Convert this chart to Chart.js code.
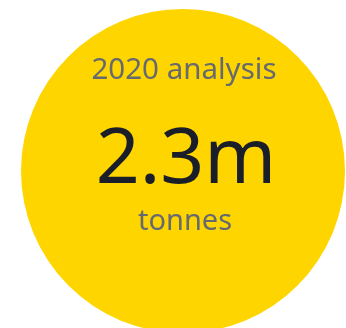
<!DOCTYPE html>
<html lang="en">
<head>
    <meta charset="UTF-8">
    <title>2020 analysis</title>
    <script src="https://cdn.jsdelivr.net/npm/chart.js"></script>
    <style>
        * { margin: 0; padding: 0; box-sizing: border-box; }
        body { background: #fff; width: 346px; height: 328px; overflow: hidden; }
        .chart-box { position: absolute; left: 0; top: 0; width: 346px; height: 333px; }
    </style>
</head>
<body>
    <div class="chart-box">
        <canvas id="bubble"></canvas>
    </div>

    <script>
        // Figures shown in the circle
        const labels = ['2020 analysis'];
        const values = [2.3];
        const valueText = ['2.3m'];
        const unitText = ['tonnes'];

        // Writes the three lines of text over the circle
        const centerText = {
            id: 'centerText',
            afterDraw(chart) {
                const ctx = chart.ctx;
                const arc = chart.getDatasetMeta(0).data[0];
                const x = arc.x;
                ctx.save();
                ctx.textAlign = 'center';
                ctx.textBaseline = 'alphabetic';

                ctx.fillStyle = '#666a6e';
                ctx.font = '29.5px "Noto Sans"';
                ctx.fillText(labels[0], x + 1, 79);

                ctx.fillStyle = '#1a1e29';
                ctx.font = '77px "Noto Sans"';
                ctx.fillText(valueText[0], x + 3, 183);

                ctx.fillStyle = '#666a6e';
                ctx.font = '29px "Noto Sans"';
                ctx.fillText(unitText[0], x + 2, 230);
                ctx.restore();
            }
        };

        new Chart(document.getElementById('bubble'), {
            type: 'pie',
            data: {
                labels: labels,
                datasets: [{
                    data: values,
                    backgroundColor: ['#ffd500'],
                    borderWidth: 0
                }]
            },
            options: {
                responsive: true,
                maintainAspectRatio: false,
                animation: false,
                layout: { padding: { left: 21, top: 9, right: 1, bottom: 0 } },
                plugins: {
                    legend: { display: false },
                    tooltip: { enabled: false }
                }
            },
            plugins: [centerText]
        });
    </script>
</body>
</html>
